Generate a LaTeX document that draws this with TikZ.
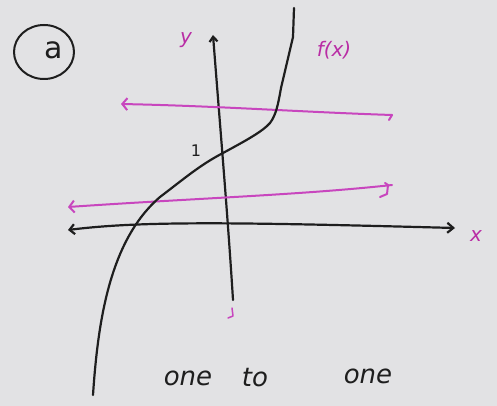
\documentclass[tikz,border=0pt]{standalone}
\usepackage{fontspec}
\setmainfont{DejaVu Sans}
\usetikzlibrary{arrows.meta}
\definecolor{paper}{RGB}{226,226,228}
\definecolor{pinkline}{RGB}{200,70,190}
\definecolor{pinktext}{RGB}{185,45,165}
\definecolor{ink}{RGB}{30,30,30}
\begin{document}
\begin{tikzpicture}[x=1pt,y=-1pt,
  blk/.style={draw=ink,line width=2.2pt,line cap=round,line join=round},
  pnk/.style={draw=pinkline,line width=2pt,line cap=round,line join=round},
  lbl/.style={text=pinktext,font=\itshape\fontsize{20}{20}\selectfont,inner sep=0pt},
  hand/.style={text=ink,font=\itshape\fontsize{26}{26}\selectfont,inner sep=0pt}]
\fill[paper] (0,0) rectangle (497,406);
\useasboundingbox (0,0) rectangle (497,406);
% circled a
\draw[blk,line width=2pt] (44,52) ellipse [x radius=30, y radius=27];
\node[text=ink,font=\fontsize{30}{30}\selectfont,inner sep=0pt] (lab) at (54,50) {a};
% axes
\coordinate (ytop) at (213,35);
\coordinate (ybot) at (233,300);
\draw[blk,-{Straight Barb[length=5pt,width=8pt]}] (ybot) .. controls (228,220) and (222,150) .. (ytop);
\draw[pnk,line width=1.5pt] (232,308) -- (233,316) -- (228,318);
\coordinate (xl) at (68,230);
\coordinate (xr) at (455,228);
\draw[blk,{Straight Barb[length=5pt,width=10pt]}-{Straight Barb[length=6pt,width=10pt]}] (xl) .. controls (140,221) and (230,222) .. (xr);
\node[lbl] (xlab) at (476,236) {x};
\node[lbl] (ylab) at (186,40) {y};
% pink horizontal lines
\coordinate (p1l) at (121,104);
\coordinate (p1r) at (392,115);
\draw[pnk,{Straight Barb[length=5pt,width=12pt]}-] (p1l) .. controls (220,106) and (300,112) .. (p1r);
\draw[pnk] (p1r) -- (389,120);
\coordinate (p2l) at (68,207);
\coordinate (p2r) at (392,185);
\draw[pnk,{Straight Barb[length=5pt,width=12pt]}-] (p2l) .. controls (200,198) and (300,195) .. (p2r);
\draw[pnk] (385,183) -- (388,185) -- (387,194) -- (380,197);
% curve f(x)
\coordinate (fb) at (93,395);
\coordinate (ft) at (294,8);
\draw[blk] (fb) .. controls (98,320) and (110,240) .. (160,197)
  .. controls (185,178) and (200,165) .. (223,153)
  .. controls (245,141) and (262,132) .. (270,123)
  .. controls (276,115) and (278,105) .. (281,88)
  -- (293,37) -- (ft);
\node[lbl] (flab) at (334,50) {f(x)};
\node[text=ink,font=\fontsize{16}{16}\selectfont,inner sep=0pt] (one) at (196,151) {1};
% text
\node[hand] (w1) at (188,378) {one};
\node[hand] (w2) at (255,378) {to};
\node[hand] (w3) at (368,376) {one};
\end{tikzpicture}
\end{document}
